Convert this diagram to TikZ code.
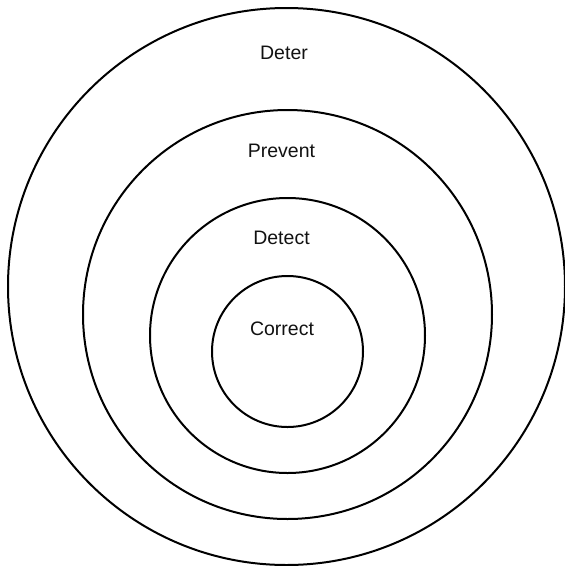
\documentclass[tikz,border=0pt]{standalone}
\usepackage{fontspec}
\setmainfont{Liberation Sans}
\usepackage{xcolor}
\usepackage{tikz}
\usetikzlibrary{positioning}
\definecolor{ringink}{HTML}{000000}
\definecolor{labelink}{HTML}{111111}
\tikzset{
  ring/.style={
    circle, draw=ringink, line width=2pt,
    inner sep=0pt, outer sep=0pt, fill=none
  },
  ringlabel/.style={
    anchor=base, inner sep=0pt, text=labelink,
    font=\fontsize{19.5}{23}\selectfont
  },
}
\begin{document}
\begin{tikzpicture}[x=1pt, y=-1pt]
  \useasboundingbox (0,0) rectangle (565,566);
  \node[ring, minimum size=557pt] (deter) at (286.5,286.5) {};
  \node[ring, minimum size=409pt] (prevent) at (287.5,314.5) {};
  \node[ring, minimum size=275pt] (detect) at (287.5,335.5) {};
  \node[ring, minimum size=151pt] (correct) at (287.5,351.5) {};
  \node[ringlabel] (deterlbl) at (284,59) {Deter};
  \node[ringlabel] (preventlbl) at (281.5,157) {Prevent};
  \node[ringlabel] (detectlbl) at (281.5,244) {Detect};
  \node[ringlabel] (correctlbl) at (282,335) {Correct};
\end{tikzpicture}
\end{document}
